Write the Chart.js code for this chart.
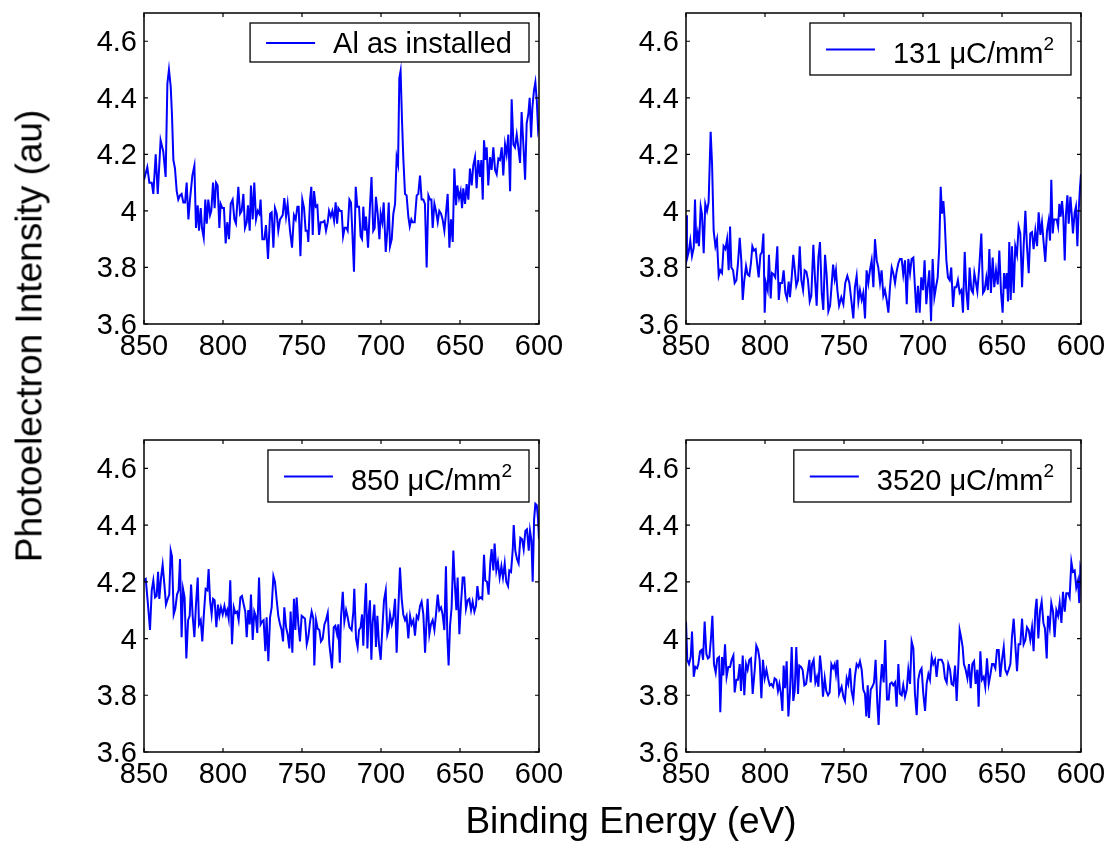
<!DOCTYPE html>
<html>
<head>
<meta charset="utf-8">
<script src="https://cdn.jsdelivr.net/npm/chart.js@4.4.0/dist/chart.umd.min.js"></script>
<style>
html,body{margin:0;padding:0;background:#fff;}
#wrap{position:relative;width:1109px;height:843px;overflow:hidden;background:#fff;}
#wrap canvas{position:absolute;left:0;top:0;}
.title{position:absolute;font-family:"Liberation Sans",Arial,Helvetica,sans-serif;font-size:37px;line-height:37px;color:#000;white-space:nowrap;}
#xt{left:631px;top:820px;transform:translate(-50%,-50%);}
#yt{left:29px;top:336px;transform:translate(-50%,-50%) rotate(-90deg);}
</style>
</head>
<body>
<div id="wrap">
  <canvas id="c1" width="1109" height="843"></canvas>
  <canvas id="c2" width="1109" height="843"></canvas>
  <canvas id="c3" width="1109" height="843"></canvas>
  <canvas id="c4" width="1109" height="843"></canvas>
  <div class="title" id="xt">Binding Energy (eV)</div>
  <div class="title" id="yt">Photoelectron Intensity (au)</div>
</div>
<script>
// ---------------- data ----------------
const xTicks = [850, 800, 750, 700, 650, 600];
const yTicks = [3.6, 3.8, 4, 4.2, 4.4, 4.6];

const labelAl = "Al as installed";
const label131 = "131 μC/mm";
const label850 = "850 μC/mm";
const label3520 = "3520 μC/mm";
const labelSup = "2";

const energyAl = [850.0,847.9,846.6,845.1,844.1,842.6,841.3,839.5,837.8,836.3,835.2,834.2,833.1,832.3,831.4,830.4,829.3,828.3,827.2,826.2,825.1,824.0,823.0,821.9,820.9,819.4,818.1,817.1,816.0,815.2,814.1,813.3,812.2,811.2,810.3,809.3,808.2,807.4,806.3,805.3,804.4,803.4,802.3,801.5,800.4,799.4,798.3,797.3,796.2,795.1,793.9,792.8,791.8,790.3,789.2,788.2,787.1,786.1,785.0,784.2,783.1,782.3,781.2,780.2,779.1,778.0,777.0,776.2,775.1,773.8,772.8,771.5,770.2,769.2,768.1,767.1,766.0,765.0,763.9,762.2,761.2,760.1,759.1,757.6,756.3,755.1,754.0,752.9,752.1,751.0,749.8,748.7,747.7,746.6,746.0,744.9,744.1,743.2,742.4,741.3,740.3,739.2,738.2,736.9,735.8,734.8,733.7,732.9,731.8,730.8,729.7,728.7,727.8,727.0,725.9,724.9,724.0,723.0,721.9,721.1,720.0,
719.0,718.1,717.1,716.0,715.0,713.9,712.9,712.0,711.2,710.3,709.5,708.2,707.0,706.0,704.9,704.0,703.2,702.1,701.0,700.2,699.2,698.3,697.0,696.0,695.1,694.3,693.2,692.2,691.1,690.1,689.2,688.4,687.6,686.7,685.9,684.8,683.8,682.7,681.8,680.8,680.0,678.7,677.4,676.4,675.3,674.3,673.2,672.2,671.1,670.0,669.0,668.1,667.3,666.2,665.2,664.1,663.1,662.0,661.0,659.9,658.9,657.8,656.7,655.7,654.6,653.6,652.5,651.7,650.6,649.6,648.7,647.9,646.8,645.8,644.7,643.7,642.6,641.6,640.5,639.5,638.4,637.3,636.5,635.6,634.8,633.9,633.1,632.1,631.0,630.0,628.9,627.8,626.8,625.7,624.7,623.6,622.6,621.5,620.5,619.4,618.3,617.3,616.2,615.2,614.1,613.1,612.0,611.0,609.9,608.8,607.8,606.7,605.9,605.0,604.2,603.2,602.3,601.4,600.6,600.0];
const intensityAl = [4.11,4.155,4.10,4.10,4.06,4.20,4.06,4.25,4.21,4.12,4.45,4.50,4.44,4.34,4.18,4.15,4.07,4.04,4.055,4.06,4.03,4.03,4.10,3.97,4.04,4.125,4.16,3.94,4.02,3.93,4.01,3.94,3.905,4.04,3.955,4.04,3.985,4.00,4.10,4.01,4.10,4.09,3.94,4.025,4.01,4.01,3.885,3.96,3.90,4.025,4.04,3.97,3.955,4.085,3.99,4.00,4.06,3.94,3.96,4.02,3.93,4.09,3.97,4.10,3.97,4.00,3.99,4.04,3.90,3.90,3.95,3.83,3.99,3.995,3.87,4.01,3.99,3.93,3.97,3.985,4.045,3.98,4.025,3.93,3.87,3.985,3.97,4.015,4.015,3.84,4.04,4.01,3.93,3.93,3.89,4.04,4.085,3.915,4.07,4.015,4.02,3.915,3.96,3.96,3.965,3.93,3.96,4.00,3.98,4.00,3.965,4.03,3.955,4.01,4.00,4.00,3.91,3.94,3.94,3.93,4.04,
4.03,3.92,3.785,4.085,4.015,4.015,3.91,3.90,4.015,3.93,3.98,3.87,4.015,4.12,3.93,3.94,4.05,3.99,3.90,3.99,3.96,4.03,3.855,3.93,4.03,3.875,3.90,3.99,4.025,4.19,4.165,4.47,4.495,4.32,4.19,4.06,4.055,3.98,3.945,3.97,3.96,3.96,4.055,4.06,4.125,4.04,4.04,4.025,3.80,4.055,4.04,4.04,3.94,4.025,4.00,3.96,4.00,3.99,3.97,3.93,3.99,4.06,3.87,3.97,3.89,4.15,4.02,4.09,4.045,4.07,4.01,4.08,4.025,4.095,4.04,4.15,4.09,4.16,4.19,4.08,4.18,4.12,4.18,4.04,4.25,4.18,4.225,4.09,4.19,4.145,4.225,4.145,4.13,4.185,4.18,4.225,4.125,4.235,4.20,4.27,4.07,4.395,4.235,4.225,4.27,4.225,4.17,4.35,4.235,4.11,4.31,4.345,4.40,4.26,4.365,4.425,4.455,4.39,4.29,4.31];

const energy131 = [850.0,849.4,848.3,847.3,846.2,845.1,844.3,843.5,842.6,841.8,840.7,839.9,838.8,837.8,836.7,835.7,834.4,833.5,832.5,831.4,830.4,829.3,828.3,827.2,826.2,825.1,824.0,823.0,822.1,821.3,820.2,819.2,818.1,817.1,816.0,815.0,814.1,813.1,812.0,811.0,809.9,808.9,808.0,807.0,805.9,804.8,804.0,802.9,801.9,801.0,800.2,799.4,798.3,797.5,796.4,795.6,794.5,793.5,792.2,791.3,790.3,789.2,788.2,787.1,786.1,785.0,784.2,783.1,782.1,781.2,780.2,779.1,778.0,777.0,775.9,774.9,773.8,772.8,771.7,770.7,769.4,768.3,767.3,766.2,765.2,764.1,763.1,762.0,761.0,759.9,758.8,758.0,756.9,755.9,755.1,754.2,753.1,
751.7,750.4,749.2,747.9,746.6,745.4,744.1,743.1,742.0,740.9,739.9,738.8,737.8,736.7,735.7,734.6,733.6,732.5,731.4,730.4,729.3,728.3,727.2,726.2,725.1,724.1,723.0,721.9,720.9,719.8,718.8,717.7,716.7,715.6,714.6,713.5,712.5,711.4,710.3,709.3,708.2,707.2,706.1,705.1,704.2,703.2,702.1,701.1,700.0,699.0,697.9,696.8,696.0,694.9,693.9,692.8,691.8,690.7,689.7,688.8,688.0,687.1,686.3,685.2,684.2,683.1,682.1,681.0,680.0,678.9,677.9,676.8,675.7,674.7,673.6,672.6,671.5,670.5,669.4,668.4,667.5,666.9,665.6,664.4,663.1,662.0,661.0,659.9,658.9,658.0,657.0,655.9,654.9,653.8,652.7,651.7,650.6,649.6,648.7,647.9,647.0,646.2,645.4,644.5,643.7,642.6,641.6,640.5,639.5,638.4,637.3,636.3,635.2,634.2,633.1,632.1,631.0,630.0,628.9,627.8,626.8,625.7,624.7,623.6,622.6,621.5,620.5,619.6,618.8,617.9,617.1,616.2,615.4,614.5,613.7,612.9,612.0,611.2,610.3,609.5,608.6,607.8,606.7,605.9,605.1,604.0,603.2,602.3,601.5,600.6,600.0];
const intensity131 = [3.985,3.83,3.855,3.895,3.84,3.87,4.04,3.885,3.92,3.875,4.015,3.99,3.85,4.025,4.00,4.03,4.28,4.165,3.93,3.875,3.90,3.77,3.79,3.78,3.875,3.865,3.90,3.79,3.945,3.80,3.79,3.745,3.755,3.815,3.905,3.825,3.685,3.755,3.805,3.775,3.77,3.815,3.875,3.86,3.865,3.805,3.765,3.845,3.855,3.92,3.64,3.745,3.72,3.845,3.69,3.78,3.775,3.765,3.875,3.685,3.745,3.745,3.79,3.71,3.69,3.75,3.695,3.765,3.845,3.795,3.735,3.755,3.875,3.755,3.72,3.79,3.785,3.755,3.68,3.70,3.88,3.755,3.665,3.835,3.89,3.71,3.65,3.845,3.775,3.645,3.665,3.725,3.81,3.76,3.79,3.72,3.665,
3.695,3.67,3.745,3.77,3.745,3.685,3.62,3.73,3.77,3.68,3.72,3.685,3.71,3.62,3.79,3.745,3.79,3.825,3.73,3.90,3.825,3.80,3.745,3.79,3.70,3.72,3.685,3.64,3.73,3.80,3.78,3.745,3.785,3.815,3.83,3.83,3.775,3.825,3.67,3.83,3.78,3.83,3.835,3.73,3.64,3.735,3.64,3.765,3.72,3.825,3.67,3.745,3.79,3.61,3.83,3.695,3.73,3.765,3.875,4.085,3.99,4.035,3.97,3.825,3.765,3.755,3.80,3.66,3.73,3.73,3.755,3.71,3.72,3.64,3.855,3.72,3.65,3.80,3.72,3.71,3.78,3.76,3.715,3.80,3.92,3.71,3.72,3.765,3.72,3.865,3.71,3.835,3.73,3.79,3.74,3.86,3.71,3.64,3.78,3.725,3.78,3.68,3.89,3.685,3.875,3.71,3.875,3.845,3.945,3.92,3.73,3.875,4.00,3.875,3.78,3.92,3.925,3.865,3.93,3.875,3.995,3.915,3.96,3.885,3.82,3.93,3.965,3.895,4.11,3.92,3.97,3.97,3.97,3.945,4.025,3.98,4.035,3.98,3.825,3.99,4.055,3.955,4.05,3.99,3.92,3.995,4.015,3.875,4.00,4.085,4.13];

const energy850 = [850.0,848.9,847.5,846.2,845.1,844.1,843.0,842.0,841.1,840.3,839.2,838.2,837.1,836.1,835.0,834.0,833.1,832.3,831.2,830.2,829.1,828.1,827.2,826.2,825.3,824.3,823.2,822.1,821.1,820.2,819.2,818.1,817.1,816.0,815.2,814.1,813.1,812.0,811.0,809.9,809.1,808.2,807.2,806.3,805.3,804.2,803.2,802.3,801.3,800.2,799.1,798.1,797.3,796.4,795.4,794.3,793.2,792.2,791.1,790.1,789.0,788.0,786.9,785.9,785.0,784.0,783.1,782.3,781.2,780.2,779.3,778.3,777.2,776.2,775.3,774.3,773.2,772.4,771.3,770.2,769.2,768.1,767.1,766.0,765.0,763.9,762.9,762.0,761.2,760.1,759.1,758.0,757.2,756.1,755.1,754.2,753.4,752.3,751.3,750.2,749.1,748.1,747.0,746.0,744.9,743.9,742.8,742.2,741.1,740.1,739.0,738.0,736.9,735.8,734.8,733.7,732.7,731.8,731.0,729.9,728.9,727.8,727.0,726.1,725.3,724.2,723.2,722.1,721.1,720.0,
718.6,717.5,716.9,715.8,714.8,713.9,712.9,712.0,711.2,710.3,709.5,708.6,707.8,707.0,706.1,705.3,704.2,703.2,702.3,701.3,700.2,699.2,698.1,697.0,696.0,695.1,694.3,693.2,692.2,691.1,690.1,689.0,688.0,686.9,685.9,684.8,683.8,682.7,681.6,680.6,679.5,678.5,677.4,676.4,675.3,674.3,673.2,672.1,671.1,670.5,669.4,668.4,667.3,666.2,665.2,664.1,663.1,662.0,661.0,659.9,658.9,658.0,657.2,656.3,655.3,654.2,653.4,652.3,651.5,650.4,649.4,648.3,647.3,646.2,645.1,644.1,643.0,642.0,640.9,639.9,639.0,638.0,636.9,635.9,634.8,634.0,632.9,631.9,630.8,630.0,628.9,628.1,627.0,626.0,624.9,623.8,622.8,621.7,620.7,619.6,618.8,617.7,616.6,616.0,615.0,613.9,612.9,611.8,610.7,609.7,608.6,607.6,606.5,605.7,604.8,604.0,603.1,602.3,601.4,600.6,600.0];
const intensity850 = [4.205,4.21,4.12,4.03,4.17,4.205,4.145,4.15,4.235,4.14,4.215,4.26,4.19,4.12,4.14,4.155,4.31,4.29,4.085,4.105,4.155,4.17,4.28,4.005,4.175,4.145,3.93,4.065,4.08,4.19,4.08,4.005,4.12,4.215,4.05,4.065,3.99,4.095,4.175,4.17,4.245,4.135,4.085,4.14,4.135,4.04,4.12,4.08,4.11,4.085,4.115,4.085,4.10,4.07,4.205,3.98,4.11,4.09,4.095,4.065,4.145,4.15,4.12,4.095,4.005,4.10,4.05,4.155,3.995,4.095,4.08,4.02,4.215,4.05,4.06,4.065,3.955,4.075,3.92,4.075,4.11,4.22,4.20,4.135,4.08,4.05,4.03,3.99,4.11,4.04,4.015,3.965,4.095,3.95,4.14,4.03,4.145,4.05,3.99,4.08,4.075,4.07,3.98,4.005,4.06,4.095,4.07,3.905,4.065,4.035,4.03,3.99,4.00,4.05,4.065,4.09,3.98,3.935,3.895,4.04,4.045,4.015,4.05,3.915,4.075,4.165,4.06,4.10,4.075,4.04,
4.03,4.095,4.175,4.00,3.97,4.03,4.04,4.085,3.975,4.11,4.195,3.965,4.08,4.135,3.925,4.055,4.12,3.97,4.08,3.98,3.925,4.03,4.135,4.17,4.015,4.035,4.085,4.05,4.075,4.14,3.95,4.11,4.25,4.14,4.085,4.065,4.08,4.00,4.08,4.05,4.065,4.01,4.08,4.07,4.115,4.13,4.085,3.95,4.075,4.14,4.015,4.05,4.065,4.03,4.085,4.155,4.10,4.11,4.085,4.03,4.255,4.005,3.905,4.045,4.11,4.31,4.205,4.10,4.215,4.015,4.12,4.215,4.215,4.105,4.135,4.14,4.10,4.13,4.095,4.115,4.185,4.14,4.145,4.14,4.295,4.205,4.20,4.155,4.27,4.315,4.24,4.335,4.24,4.27,4.215,4.255,4.215,4.265,4.20,4.185,4.24,4.235,4.315,4.40,4.31,4.28,4.265,4.355,4.35,4.315,4.38,4.385,4.31,4.38,4.345,4.20,4.42,4.475,4.47,4.42,4.35];

const energy3520 = [850.0,849.2,848.1,847.0,846.2,845.1,844.1,843.0,842.2,841.1,840.1,839.2,838.2,837.1,836.1,835.2,834.2,833.3,832.3,831.2,830.2,829.1,828.3,827.2,826.4,825.3,824.3,823.2,822.1,821.1,820.0,819.2,818.1,817.1,816.0,815.2,814.1,813.1,812.0,811.0,809.9,808.9,807.8,806.5,805.5,804.4,803.4,802.3,801.3,800.2,799.1,798.1,797.0,796.0,794.9,793.9,792.8,791.8,790.9,789.9,789.0,788.2,787.3,786.3,785.2,784.2,783.1,782.1,781.2,780.2,779.1,778.3,777.2,776.2,775.1,774.0,773.0,771.9,771.1,770.2,769.2,768.1,767.1,766.2,765.2,764.3,763.3,762.2,761.2,760.1,759.1,758.0,756.9,755.9,755.1,754.2,753.1,
751.5,750.4,749.4,748.3,747.3,746.2,745.2,744.1,743.1,742.0,740.9,739.9,738.8,737.8,736.7,735.9,735.0,734.2,733.1,732.1,731.0,730.0,728.9,728.1,727.0,726.0,724.9,723.9,722.8,721.7,720.9,719.8,718.8,717.7,716.7,715.6,714.6,713.5,712.5,711.4,710.3,709.3,708.2,707.2,706.1,705.1,704.0,703.0,701.9,700.9,699.8,698.7,697.7,696.6,695.6,694.5,693.5,692.4,691.4,690.3,689.2,688.2,687.1,686.1,685.0,684.0,682.9,681.9,680.8,679.7,678.7,677.6,676.8,675.9,674.9,674.1,673.0,671.9,670.9,669.8,668.8,667.7,666.7,665.6,664.8,663.7,662.7,661.6,660.6,659.5,658.4,657.4,656.3,655.3,654.2,653.2,652.1,651.1,650.0,648.9,647.9,646.8,645.8,644.7,643.7,642.6,641.6,640.5,639.5,638.4,637.3,636.3,635.2,634.2,633.1,632.1,631.0,630.0,628.9,628.1,627.0,625.9,624.9,623.8,622.8,621.7,620.9,619.8,618.8,617.7,616.7,615.6,614.5,613.5,612.4,611.4,610.3,609.3,608.2,607.2,606.1,605.1,604.0,603.0,601.9,601.1,600.4,600.0];
const intensity3520 = [4.06,3.925,3.91,3.935,4.025,3.865,3.90,3.895,3.91,3.955,3.96,3.925,4.06,3.945,3.93,3.935,4.00,4.08,3.91,3.88,3.93,3.935,3.74,3.935,3.87,3.98,3.865,3.90,3.90,3.925,3.94,3.81,3.855,3.855,3.91,3.815,3.94,3.80,3.91,3.89,3.925,3.93,3.805,3.89,3.975,3.96,3.925,3.79,3.925,3.86,3.89,3.86,3.835,3.84,3.83,3.86,3.855,3.815,3.84,3.805,3.745,3.905,3.825,3.92,3.725,3.81,3.97,3.78,3.815,3.97,3.805,3.905,3.90,3.89,3.835,3.84,3.88,3.925,3.845,3.91,3.925,3.845,3.865,3.83,3.94,3.89,3.795,3.86,3.815,3.80,3.81,3.91,3.895,3.91,3.875,3.925,3.805,
3.83,3.795,3.78,3.86,3.84,3.895,3.815,3.785,3.865,3.91,3.90,3.92,3.89,3.82,3.805,3.725,3.835,3.72,3.82,3.83,3.845,3.925,3.77,3.695,3.83,3.91,3.845,3.995,3.785,3.785,3.84,3.845,3.835,3.845,3.76,3.91,3.805,3.80,3.835,3.795,3.82,3.89,3.84,3.99,3.965,3.805,3.73,3.855,3.885,3.895,3.805,3.745,3.84,3.875,3.855,3.935,3.91,3.925,3.865,3.925,3.925,3.925,3.91,3.86,3.845,3.91,3.89,3.84,3.835,3.905,3.78,3.91,4.03,4.005,3.97,3.91,3.89,3.86,3.91,3.825,3.91,3.92,3.84,3.89,3.76,3.955,3.855,3.865,3.83,3.93,3.84,3.87,3.91,3.91,3.895,3.96,3.96,3.865,3.925,3.97,3.89,3.875,3.89,3.91,4.005,4.07,3.98,3.885,3.98,3.98,4.07,3.98,3.995,4.04,4.03,3.995,4.04,3.955,4.10,4.14,4.00,4.10,4.13,4.055,4.035,3.93,4.08,4.04,4.125,4.095,4.005,4.10,4.08,4.125,4.055,4.165,4.095,4.16,4.16,4.145,4.27,4.235,4.24,4.18,4.205,4.125,4.25,4.24];

// ---------------- drawing ----------------
const FONT = '"Liberation Sans", Arial, Helvetica, sans-serif';
Chart.defaults.font.family = FONT;
Chart.defaults.color = '#000';

const frameTicks = {
  id: 'frameTicks',
  afterDatasetsDraw(chart) {
    const {ctx, chartArea: a, scales: {x, y}} = chart;
    ctx.save();
    ctx.strokeStyle = '#000';
    ctx.lineWidth = 1.2;
    ctx.beginPath();
    const tl = 4;
    x.ticks.forEach(t => {
      const px = x.getPixelForValue(t.value);
      ctx.moveTo(px, a.bottom); ctx.lineTo(px, a.bottom - tl);
      ctx.moveTo(px, a.top); ctx.lineTo(px, a.top + tl);
    });
    y.ticks.forEach(t => {
      const py = y.getPixelForValue(t.value);
      ctx.moveTo(a.left, py); ctx.lineTo(a.left + tl, py);
      ctx.moveTo(a.right, py); ctx.lineTo(a.right - tl, py);
    });
    ctx.stroke();
    ctx.lineWidth = 1.5;
    ctx.strokeRect(a.left, a.top, a.right - a.left, a.bottom - a.top);
    ctx.restore();
  }
};

const panelLegend = {
  id: 'panelLegend',
  afterDraw(chart, args, opts) {
    const {ctx, chartArea: a} = chart;
    const mainFont = '29px ' + FONT;
    const supFont = '19px ' + FONT;
    ctx.save();
    ctx.font = mainFont;
    const wMain = ctx.measureText(opts.text).width;
    let wSup = 0;
    if (opts.sup) { ctx.font = supFont; wSup = ctx.measureText(opts.sup).width; }
    const padL = 16, lineLen = 49, gap = 18, padR = 17;
    const w = padL + lineLen + gap + wMain + wSup + padR;
    const h = opts.sup ? 52 : 39;
    const right = a.right - 10, top = a.top + 10, left = right - w;
    ctx.fillStyle = '#fff';
    ctx.fillRect(left, top, w, h);
    ctx.strokeStyle = '#000';
    ctx.lineWidth = 1.3;
    ctx.strokeRect(left, top, w, h);
    const lineY = top + (opts.sup ? 26.5 : 20);
    const base = top + (opts.sup ? 40 : 30);
    ctx.strokeStyle = opts.color;
    ctx.lineWidth = 2;
    ctx.beginPath();
    ctx.moveTo(left + padL, lineY);
    ctx.lineTo(left + padL + lineLen, lineY);
    ctx.stroke();
    ctx.fillStyle = '#000';
    ctx.textBaseline = 'alphabetic';
    ctx.textAlign = 'left';
    ctx.font = mainFont;
    const tx = left + padL + lineLen + gap;
    ctx.fillText(opts.text, tx, base);
    if (opts.sup) {
      ctx.font = supFont;
      ctx.fillText(opts.sup, tx + wMain, base - 13);
    }
    ctx.restore();
  }
};

function makePanel(id, energy, intensity, label, sup, L, T, R, B) {
  const W = 1109, H = 843;
  const pts = energy.map((e, i) => ({x: e, y: intensity[i]}));
  return new Chart(document.getElementById(id), {
    type: 'line',
    data: {
      datasets: [{
        label: label,
        data: pts,
        borderColor: '#0000ff',
        borderWidth: 2,
        pointRadius: 0,
        tension: 0,
        fill: false
      }]
    },
    options: {
      responsive: false,
      animation: false,
      devicePixelRatio: 1,
      events: [],
      layout: {padding: {left: 0, top: T, right: W - R, bottom: 0}},
      plugins: {
        legend: {display: false},
        tooltip: {enabled: false},
        panelLegend: {text: label, sup: sup, color: '#0000ff'}
      },
      scales: {
        x: {
          type: 'linear',
          min: 600, max: 850,
          reverse: true,
          grid: {display: false, drawTicks: false},
          border: {display: false},
          afterBuildTicks: s => { s.ticks = xTicks.map(v => ({value: v})); },
          afterFit: s => { s.height = H - B; s.paddingLeft = 0; s.paddingRight = 0; },
          ticks: {
            autoSkip: false, maxRotation: 0, padding: 6,
            font: {size: 29, family: FONT}, color: '#000',
            callback: v => String(v)
          }
        },
        y: {
          type: 'linear',
          min: 3.6, max: 4.7,
          grid: {display: false, drawTicks: false},
          border: {display: false},
          afterBuildTicks: s => { s.ticks = yTicks.map(v => ({value: v})); },
          afterFit: s => { s.width = L; s.paddingTop = 0; s.paddingBottom = 0; },
          ticks: {
            autoSkip: false, padding: 7, labelOffset: 2,
            font: {size: 29, family: FONT}, color: '#000',
            callback: v => String(Math.round(v * 10) / 10)
          }
        }
      }
    },
    plugins: [frameTicks, panelLegend]
  });
}

makePanel('c1', energyAl, intensityAl, labelAl, null, 144, 13, 539, 324);
makePanel('c2', energy131, intensity131, label131, labelSup, 686, 13, 1081, 324);
makePanel('c3', energy850, intensity850, label850, labelSup, 144, 440, 539, 752);
makePanel('c4', energy3520, intensity3520, label3520, labelSup, 686, 440, 1081, 752);
</script>
</body>
</html>
